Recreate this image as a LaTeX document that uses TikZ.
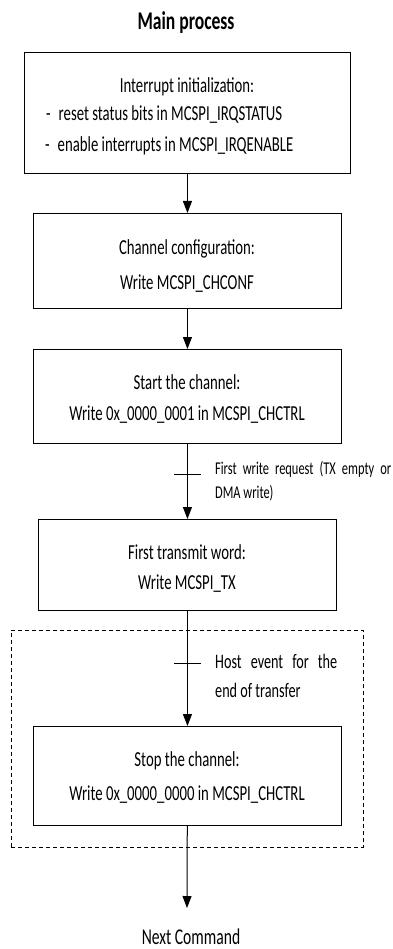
\documentclass[tikz,border=0pt]{standalone}
\usepackage{fontspec}
\setmainfont[FakeStretch=0.69]{Carlito}
\usetikzlibrary{arrows.meta}
\begin{document}
\begin{tikzpicture}[x=1pt,y=-1pt,
  box/.style={draw, line width=0.9pt, inner sep=0pt, anchor=north west},
  dbox/.style={draw, line width=0.9pt, dash pattern=on 4pt off 3pt, inner sep=0pt, anchor=north west},
  arr/.style={line width=1pt, -{Triangle[length=12pt,width=9pt]}},
  tick/.style={line width=1pt},
  txt/.style={inner sep=0pt, anchor=base, font=\fontsize{21.4}{25}\selectfont},
  txtl/.style={inner sep=0pt, anchor=base west, font=\fontsize{21.4}{25}\selectfont},
  lblA/.style={inner sep=0pt, anchor=base west, font=\fontsize{18}{21}\selectfont},
  lblB/.style={inner sep=0pt, anchor=base west, font=\fontsize{20.6}{24}\selectfont},
  ttl/.style={inner sep=0pt, anchor=base, font=\fontsize{25.5}{29}\selectfont\bfseries},
  nxt/.style={inner sep=0pt, anchor=base, font=\fontsize{22.6}{27}\selectfont}]
\useasboundingbox (0,0) rectangle (392,949);

\node[ttl] (title) at (186,30) {Main process};

\node[dbox, minimum width=352pt, minimum height=217pt] (dash) at (11,630) {};

\node[box, minimum width=326pt, minimum height=121pt] (b1) at (24,52) {};
\node[box, minimum width=308pt, minimum height=95pt] (b2) at (33,213) {};
\node[box, minimum width=308pt, minimum height=94pt] (b3) at (33,349) {};
\node[box, minimum width=298pt, minimum height=91pt] (b4) at (38,519) {};
\node[box, minimum width=308pt, minimum height=99pt] (b5) at (33,726) {};
\coordinate (end) at (187,908);

\node[txt] (t1a) at (187,93) {Interrupt initialization:};
\node[txtl] (t1b) at (46,121) {-\hspace{8pt}reset status bits in MCSPI\_IRQSTATUS};
\node[txtl] (t1c) at (45,152) {-\hspace{8pt}enable interrupts in MCSPI\_IRQENABLE};

\node[txt] (t2a) at (187,255) {Channel configuration:};
\node[txt] (t2b) at (187,289) {Write MCSPI\_CHCONF};

\node[txt] (t3a) at (187,389) {Start the channel:};
\node[txt] (t3b) at (187,420) {Write 0x\_0000\_0001 in MCSPI\_CHCTRL};

\node[txt] (t4a) at (187,559) {First transmit word:};
\node[txt] (t4b) at (187,589) {Write MCSPI\_TX};

\node[txt] (t5a) at (187,766) {Stop the channel:};
\node[txt] (t5b) at (187,800) {Write 0x\_0000\_0000 in MCSPI\_CHCTRL};

\node[nxt] (next) at (191,944) {Next Command};

\draw[arr] (b1) -- (b2);
\draw[arr] (b2) -- (b3);
\draw[arr] (b3) -- (b4);
\draw[arr] (b4) -- (b5);
\draw[arr] (b5) -- (end);

\draw[tick] (174,474) -- (201,474);
\draw[tick] (174,663) -- (201,663);

\node[lblA] (l1a) at (215,474) {\makebox[176pt][s]{First write request (TX empty or}};
\node[lblA] (l1b) at (215,498) {DMA write)};
\node[lblB] (l2a) at (215,668) {\makebox[122pt][s]{Host event for the}};
\node[lblB] (l2b) at (215,697) {end of transfer};
\end{tikzpicture}
\end{document}
